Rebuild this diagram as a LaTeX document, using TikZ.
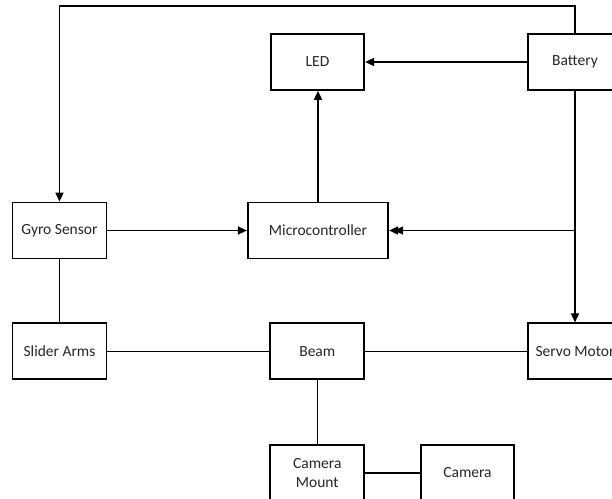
\documentclass[tikz,border=0pt]{standalone}
\usepackage{fontspec}
\setmainfont{Carlito}
\usetikzlibrary{arrows.meta}
\begin{document}
\begin{tikzpicture}[x=1bp,y=-1bp,
  box/.style={draw, line width=1.7bp, inner sep=0pt, minimum height=56bp,
    minimum width=94bp, align=center, text=black!85,
    font=\fontsize{15.5bp}{19bp}\selectfont},
  conn/.style={line width=1.6bp},
  arr/.style={conn, -{Triangle[length=9bp,width=8bp]}},
  darr/.style={conn, -{Triangle[length=9bp,width=8bp,sep=-4bp]Triangle[length=9bp,width=8bp]}}]
\useasboundingbox[fill=white] (0,0) rectangle (612,499);
\node[box, minimum width=93.5bp] (led) at (317.5,62) {LED};
\node[box, minimum width=93.5bp] (bat) at (575,62) {Battery};
\node[box] (gyro) at (59.5,230.5) {Gyro Sensor};
\node[box, minimum width=140.5bp] (micro) at (318,230.5) {Microcontroller};
\node[box] (slider) at (59.5,351.3) {Slider Arms};
\node[box] (beam) at (317.3,351.3) {Beam};
\node[box] (servo) at (575,351.3) {Servo Motor};
\node[box] (mount) at (317.3,473) {Camera\\Mount};
\node[box, minimum width=93.5bp] (cam) at (467.5,473) {Camera};
\coordinate (tr) at (575,6);
\coordinate (tl) at (59.5,6);
\coordinate (j) at (575,230.5);
\draw[arr] (bat.north) -- (tr) -- (tl) -- (gyro.north);
\draw[arr] (bat.west) -- (led.east);
\draw[arr] (micro.north) -- (micro.north |- led.south);
\draw[arr] (gyro.east) -- (micro.west);
\draw[arr] (bat.south) -- (servo.north);
\draw[darr] (j) -- (micro.east);
\draw[conn] (gyro.south) -- (slider.north);
\draw[conn] (slider.east) -- (beam.west);
\draw[conn] (beam.east) -- (servo.west);
\draw[conn] (beam.south) -- (mount.north);
\draw[conn] (mount.east) -- (cam.west);
\end{tikzpicture}
\end{document}
